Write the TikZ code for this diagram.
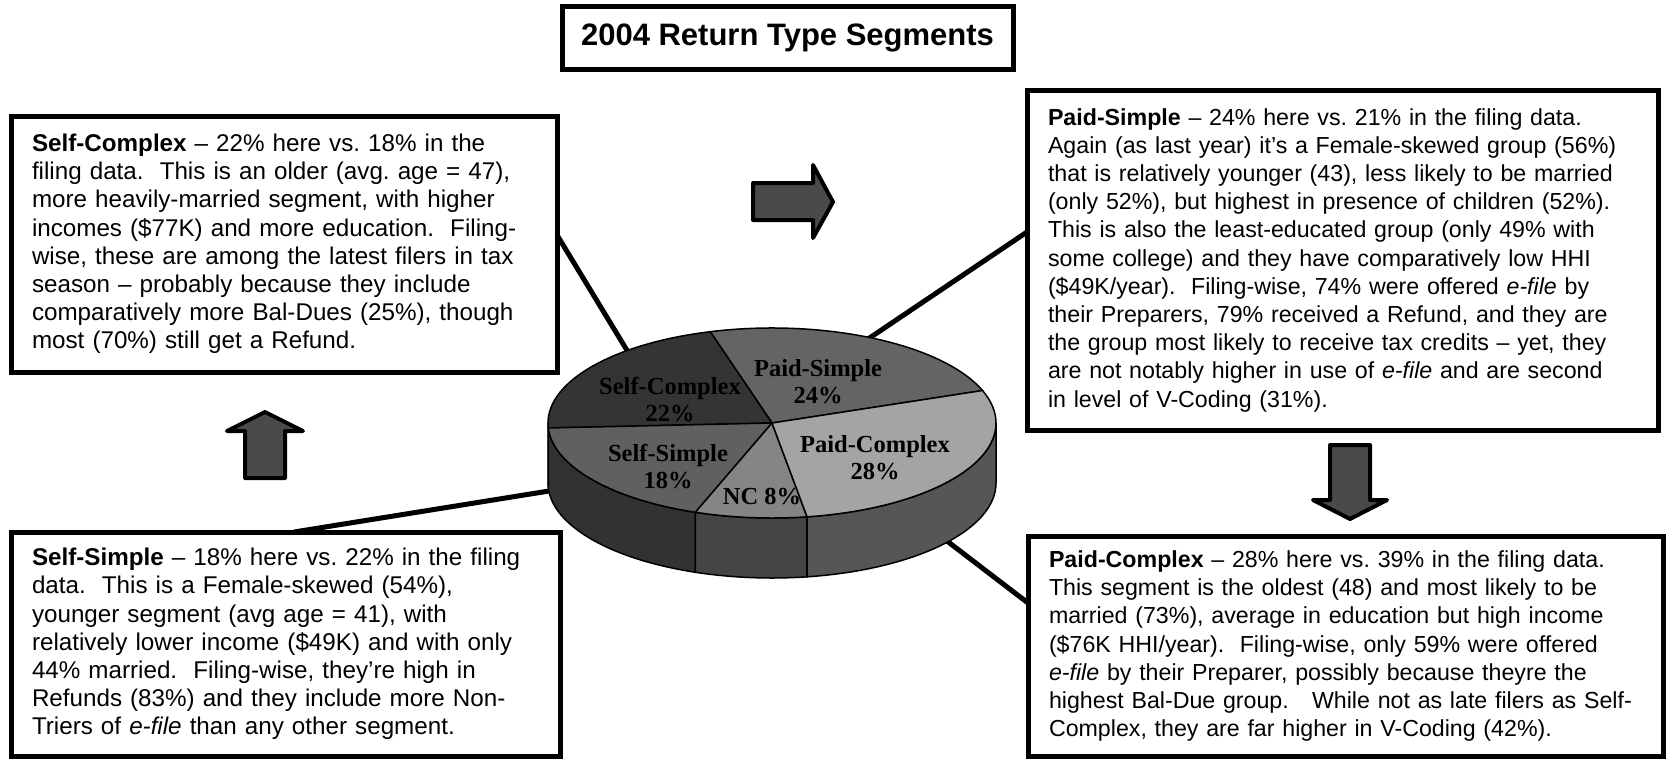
\documentclass[tikz,border=0pt]{standalone}
\usepackage{fontspec}
\setmainfont{Liberation Sans}
\newfontfamily\piefont{Liberation Serif}
\definecolor{psTop}{HTML}{646464}
\definecolor{scTop}{HTML}{343434}
\definecolor{ssTop}{HTML}{606060}
\definecolor{ncTop}{HTML}{858585}
\definecolor{pcTop}{HTML}{A4A4A4}
\definecolor{scSide}{HTML}{2E2E2E}
\definecolor{ssSide}{HTML}{323232}
\definecolor{ncSide}{HTML}{454545}
\definecolor{pcSide}{HTML}{565656}
\definecolor{arrFill}{HTML}{4A4A4A}
\frenchspacing
\hyphenpenalty=10000
\exhyphenpenalty=10000

\begin{document}
\begin{tikzpicture}[x=1pt,y=1pt,
  box/.style={rectangle,draw,line width=5pt,outer sep=0pt,anchor=north west,inner xsep=21pt,align=left,font=\fontsize{24.2}{28.2}\selectfont},
  rbox/.style={box,font=\fontsize{23.2}{28.2}\selectfont},
  hdr/.style={rectangle,draw,line width=5pt,outer sep=0pt,minimum width=451pt,minimum height=63pt,font=\bfseries\fontsize{31}{36}\selectfont},
  lbl/.style={align=center,font=\piefont\bfseries\fontsize{24.5}{27}\selectfont},
  link/.style={line width=5pt},
  arr/.style={draw,line width=4pt,fill=arrFill,line join=round},
  slice/.style={draw,line width=1.5pt}]
  \useasboundingbox (0,0) rectangle (1668,-758);

  \node[hdr] (t) at (787.5,-37.5) {2004 Return Type Segments};

  \node[box,minimum width=546pt,minimum height=256pt,text width=504pt] (sc) at (11,-116) {\textbf{Self-Complex} -- 22\% here vs. 18\% in the\\
    filing data.\ \ This is an older (avg. age = 47),\\
    more heavily-married segment, with higher\\
    incomes (\$77K) and more education.\ \ Filing-\\
    wise, these are among the latest filers in tax\\
    season -- probably because they include\\
    comparatively more Bal-Dues (25\%), though\\
    most (70\%) still get a Refund.};
  \node[box,minimum width=549pt,minimum height=224pt,text width=507pt] (ss) at (11,-532) {\textbf{Self-Simple} -- 18\% here vs. 22\% in the filing\\
    data.\ \ This is a Female-skewed (54\%),\\
    younger segment (avg age = 41), with\\
    relatively lower income (\$49K) and with only\\
    44\% married.\ \ Filing-wise, they're high in\\
    Refunds (83\%) and they include more Non-\\
    Triers of \textit{e-file} than any other segment.};
  \node[rbox,minimum width=631pt,minimum height=340pt,text width=589pt] (ps) at (1027,-90) {\textbf{Paid-Simple} -- 24\% here vs. 21\% in the filing data.\\
    Again (as last year) it's a Female-skewed group (56\%)\\
    that is relatively younger (43), less likely to be married\\
    (only 52\%), but highest in presence of children (52\%).\\
    This is also the least-educated group (only 49\% with\\
    some college) and they have comparatively low HHI\\
    (\$49K/year).\ \ Filing-wise, 74\% were offered \textit{e-file} by\\
    their Preparers, 79\% received a Refund, and they are\\
    the group most likely to receive tax credits -- yet, they\\
    are not notably higher in use of \textit{e-file} and are second\\
    in level of V-Coding (31\%).};
  \node[rbox,minimum width=635pt,minimum height=220pt,text width=593pt] (pc) at (1028,-536) {\textbf{Paid-Complex} -- 28\% here vs. 39\% in the filing data.\\
    This segment is the oldest (48) and most likely to be\\
    married (73\%), average in education but high income\\
    (\$76K HHI/year).\ \ Filing-wise, only 59\% were offered\\
    \textit{e-file} by their Preparer, possibly because theyre the\\
    highest Bal-Due group.\ \ \ While not as late filers as Self-\\
    Complex, they are far higher in V-Coding (42\%).};

  \coordinate (aSC) at (628,-352);
  \coordinate (aPS) at (868,-339);
  \coordinate (aSS) at (549,-491);
  \coordinate (aPC) at (947,-541);

  \draw[link] ([yshift=9pt]sc.east) -- (aSC);
  \draw[link] ([xshift=8.5pt]ss.north) -- (aSS);
  \draw[link] ([yshift=28pt]ps.west) -- (aPS);
  \draw[link] ([yshift=43pt]pc.west) -- (aPC);

  \foreach \a/\b/\c in {180/183/scSide,183/250/ssSide,250/279/ncSide,279/360/pcSide}
    \filldraw[slice,fill=\c] (772,-423) ++(\a:224 and 95) arc[start angle=\a,end angle=\b,x radius=224,y radius=95] -- ++(0,-60) arc[start angle=\b,end angle=\a,x radius=224,y radius=95] -- cycle;
  \foreach \a/\b/\c in {20/106/psTop,106/183/scTop,183/250/ssTop,250/279/ncTop,279/380/pcTop}
    \filldraw[slice,fill=\c] (772,-423) -- ++(\a:224 and 95) arc[start angle=\a,end angle=\b,x radius=224,y radius=95] -- cycle;

  \node[lbl] (psl) at (818,-382) {Paid-Simple\\24\%};
  \node[lbl] (scl) at (670,-400) {Self-Complex\\22\%};
  \node[lbl] (pcl) at (875,-458) {Paid-Complex\\28\%};
  \node[lbl] (ssl) at (668,-467) {Self-Simple\\18\%};
  \node[lbl] (ncl) at (762,-497) {NC 8\%};

  \draw[arr] (753,-183) -- (813,-183) -- (813,-165) -- (833,-202) -- (813,-238) -- (813,-220) -- (753,-220) -- cycle;
  \draw[arr] (245,-478) -- (245,-431) -- (227,-431) -- (265,-412) -- (303,-431) -- (285,-431) -- (285,-478) -- cycle;
  \draw[arr] (1330,-445) -- (1370,-445) -- (1370,-500) -- (1387,-500) -- (1350,-519) -- (1313,-500) -- (1330,-500) -- cycle;
\end{tikzpicture}
\end{document}
